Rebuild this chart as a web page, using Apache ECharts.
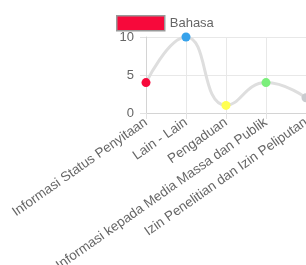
<!DOCTYPE html>
<html>
<head>
<meta charset="utf-8">
<script src="https://cdn.jsdelivr.net/npm/echarts@6/dist/echarts.min.js"></script>
<style>
  html, body { margin: 0; padding: 0; background: #fff; }
  #chart { width: 306px; height: 265px; }
</style>
</head>
<body>
<div id="chart"></div>
<script>
const categories = [
  "Informasi Status Penyitaan",
  "Lain - Lain",
  "Pengaduan",
  "Informasi kepada Media Massa dan Publik",
  "Izin Penelitian dan Izin Peliputan"
];
const values = [4, 10, 1, 4, 2];
const pointColors = ["#f7093b", "#36a2eb", "#ffff52", "#7bef7b", "#c9cbcf"];
const yTicks = [0, 5, 10];

const chart = echarts.init(document.getElementById("chart"));

chart.setOption({
  animation: false,
  textStyle: { fontFamily: "Liberation Sans, Arial, sans-serif" },
  legend: {
    top: 10,
    left: 111,
    icon: "rect",
    itemWidth: 48,
    itemHeight: 15,
    itemGap: 6,
    textStyle: { color: "#666", fontSize: 13 },
    data: [{
      name: "Bahasa",
      itemStyle: { color: "#f7093b", borderColor: "#999", borderWidth: 1.5 }
    }]
  },
  grid: {
    left: 146,
    width: 160,
    top: 37,
    bottom: 152,
    containLabel: false,
    outerBoundsMode: "none"
  },
  xAxis: {
    type: "category",
    data: categories,
    boundaryGap: false,
    axisLine: { show: true, lineStyle: { color: "#d4d4d4" } },
    axisTick: { show: true, length: 6, lineStyle: { color: "#e2e2e2" } },
    splitLine: { show: true, lineStyle: { color: "#e8e8e8" } },
    axisLabel: {
      rotate: 35,
      interval: 0,
      color: "#666",
      fontSize: 13.5,
      margin: 8
    }
  },
  yAxis: {
    type: "value",
    min: 0,
    max: 10,
    interval: 5,
    axisLine: { show: true, lineStyle: { color: "#d4d4d4" } },
    axisTick: { show: true, length: 6, lineStyle: { color: "#e2e2e2" } },
    splitLine: { show: true, lineStyle: { color: "#e8e8e8" } },
    axisLabel: {
      color: "#666",
      fontSize: 13,
      margin: 12,
      formatter: (v) => (yTicks.includes(v) ? String(v) : "")
    }
  },
  series: [{
    name: "Bahasa",
    type: "line",
    smooth: 0.5,
    symbol: "circle",
    symbolSize: 9,
    lineStyle: { color: "#dedede", width: 3 },
    itemStyle: { color: "#dedede" },
    data: values.map((v, i) => ({
      value: v,
      itemStyle: { color: pointColors[i] }
    }))
  }]
});
</script>
</body>
</html>
